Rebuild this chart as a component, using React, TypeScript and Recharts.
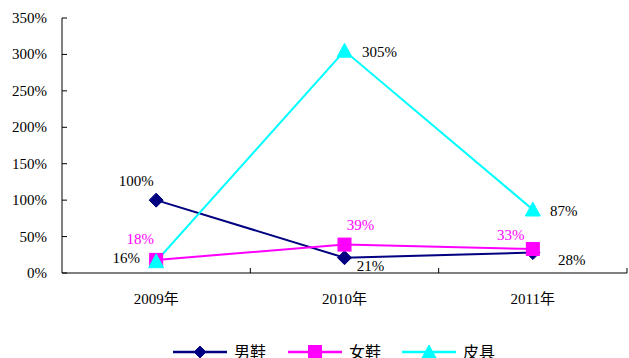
import React from 'react';
import { LineChart, Line, XAxis, YAxis } from 'recharts';

const years = ['2009年', '2010年', '2011年'];
const menShoes = [100, 21, 28];
const womenShoes = [18, 39, 33];
const leather = [16, 305, 87];
const yTicks = [0, 50, 100, 150, 200, 250, 300, 350];
const seriesNames = ['男鞋', '女鞋', '皮具'];

const data = years.map((year, i) => ({
    year,
    men: menShoes[i],
    women: womenShoes[i],
    leather: leather[i],
}));

const W = 629;
const H = 358;
const PLOT_LEFT = 62;
const PLOT_RIGHT = 627;
const BAND = (PLOT_RIGHT - PLOT_LEFT) / years.length;
const FONT = "'Liberation Serif', 'DejaVu Serif', 'Noto Sans CJK SC', serif";

const NAVY = '#000080';
const MAGENTA = '#ff00ff';
const CYAN = '#00ffff';

// label offsets relative to each point (label centre)
const menOffsets = [[-20, -19], [26, 8], [39, 7]];
const womenOffsets = [[-16, -21], [16, -20], [-22, -14]];
const leatherOffsets = [[-30, -3], [35, 1], [31, 1]];

const Diamond = ({ cx, cy, r = 7, color }: any) => (
    <polygon points={`${cx},${cy - r} ${cx + r},${cy} ${cx},${cy + r} ${cx - r},${cy}`} fill={color} stroke={color} />
);
const Square = ({ cx, cy, r = 6.5, color }: any) => (
    <rect x={cx - r} y={cy - r} width={r * 2} height={r * 2} fill={color} stroke={color} />
);
const Triangle = ({ cx, cy, r = 7.5, color }: any) => (
    <polygon points={`${cx},${cy - r} ${cx + r},${cy + r * 0.85} ${cx - r},${cy + r * 0.85}`} fill={color} stroke={color} />
);

const textStyle = { fontFamily: FONT, fontSize: 15 };

const makeLabel = (offsets: number[][], color: string) => (props: any) => {
    const { x, y, value, index } = props;
    const [dx, dy] = offsets[index] || [0, -10];
    return (
        <text x={x + dx} y={y + dy + 5} textAnchor="middle" style={textStyle} fill={color}>
            {value}%
        </text>
    );
};

const YTick = ({ x, y, payload }: any) => (
    <g>
        <line x1={x} y1={y} x2={x + 5} y2={y} stroke="#000" strokeWidth={1} />
        <text x={x - 15} y={y + 5} textAnchor="end" style={textStyle} fill="#000">
            {payload.value}%
        </text>
    </g>
);

const XTick = ({ x, y, payload }: any) => (
    <g>
        <line x1={x + BAND / 2} y1={y} x2={x + BAND / 2} y2={y - 5} stroke="#000" strokeWidth={1} />
        <text x={x} y={y + 31} textAnchor="middle" style={textStyle} fill="#000">
            {payload.value}
        </text>
    </g>
);

const LegendBar = () => {
    const colors = [NAVY, MAGENTA, CYAN];
    const starts = [173, 288, 402];
    return (
        <svg width={W} height={40} style={{ position: 'absolute', left: 0, top: 330 }}>
            {seriesNames.map((name, i) => {
                const x0 = starts[i];
                const c = x0 + 27;
                const cy = 22;
                return (
                    <g key={name}>
                        <line x1={x0} y1={cy} x2={x0 + 54} y2={cy} stroke={colors[i]} strokeWidth={2.5} />
                        {i === 0 && <Diamond cx={c} cy={cy} r={6} color={colors[i]} />}
                        {i === 1 && <Square cx={c} cy={cy} r={6.5} color={colors[i]} />}
                        {i === 2 && <Triangle cx={c} cy={cy} r={7} color={colors[i]} />}
                        <text x={x0 + 61} y={cy + 6} style={{ fontFamily: FONT, fontSize: 16 }} fill="#000">
                            {name}
                        </text>
                    </g>
                );
            })}
        </svg>
    );
};

export default function App() {
    return (
        <div style={{ position: 'absolute', left: 0, top: 0, width: W, height: H, background: '#fff', overflow: 'hidden' }}>
            <LineChart width={W} height={H} data={data} margin={{ top: 18, right: W - PLOT_RIGHT, left: 0, bottom: 45 }}>
                <XAxis
                    dataKey="year"
                    height={40}
                    padding={{ left: BAND / 2, right: BAND / 2 }}
                    axisLine={{ stroke: '#000', strokeWidth: 1 }}
                    tickLine={false}
                    tickSize={0}
                    tickMargin={0}
                    tick={<XTick />}
                    interval={0}
                />
                <YAxis
                    width={PLOT_LEFT}
                    domain={[0, 350]}
                    ticks={yTicks}
                    axisLine={{ stroke: '#000', strokeWidth: 1 }}
                    tickLine={false}
                    tickSize={0}
                    tickMargin={0}
                    tick={<YTick />}
                    interval={0}
                />
                <Line
                    dataKey="men"
                    name={seriesNames[0]}
                    stroke={NAVY}
                    strokeWidth={2}
                    isAnimationActive={false}
                    dot={(p: any) => <Diamond key={`m${p.index}`} cx={p.cx} cy={p.cy} color={NAVY} />}
                    activeDot={false}
                    label={makeLabel(menOffsets, '#000')}
                />
                <Line
                    dataKey="women"
                    name={seriesNames[1]}
                    stroke={MAGENTA}
                    strokeWidth={2}
                    isAnimationActive={false}
                    dot={(p: any) => <Square key={`w${p.index}`} cx={p.cx} cy={p.cy} color={MAGENTA} />}
                    activeDot={false}
                    label={makeLabel(womenOffsets, MAGENTA)}
                />
                <Line
                    dataKey="leather"
                    name={seriesNames[2]}
                    stroke={CYAN}
                    strokeWidth={2}
                    isAnimationActive={false}
                    dot={(p: any) => <Triangle key={`l${p.index}`} cx={p.cx} cy={p.cy} color={CYAN} />}
                    activeDot={false}
                    label={makeLabel(leatherOffsets, '#000')}
                />
            </LineChart>
            <LegendBar />
        </div>
    );
}
